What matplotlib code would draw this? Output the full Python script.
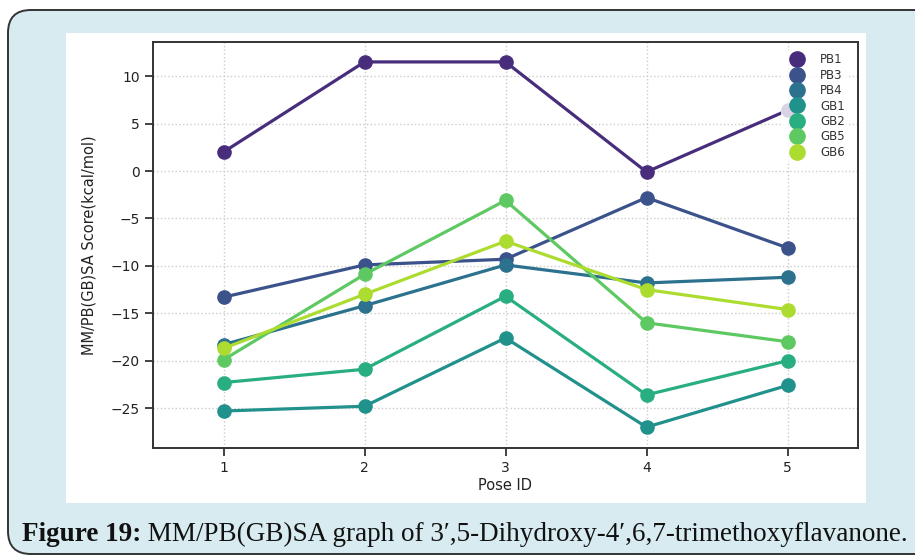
import matplotlib
matplotlib.use('Agg')
import matplotlib.pyplot as plt
from matplotlib.patches import FancyBboxPatch, Rectangle
from matplotlib.lines import Line2D
import seaborn as sns

# values
poses = [1, 2, 3, 4, 5]
labels = ['PB1', 'PB3', 'PB4', 'GB1', 'GB2', 'GB5', 'GB6']
pb1 = [2.0, 11.5, 11.5, -0.1, 6.4]
pb3 = [-13.3, -9.9, -9.3, -2.8, -8.1]
pb4 = [-18.3, -14.2, -9.9, -11.8, -11.2]
gb1 = [-25.3, -24.8, -17.6, -27.0, -22.6]
gb2 = [-22.3, -20.9, -13.2, -23.6, -20.0]
gb5 = [-19.9, -10.9, -3.1, -16.0, -18.0]
gb6 = [-18.7, -13.0, -7.4, -12.5, -14.6]
series = [pb1, pb3, pb4, gb1, gb2, gb5, gb6]
yticks = [-25, -20, -15, -10, -5, 0, 5, 10]

colors = sns.color_palette('viridis', len(labels))
plt.rcParams['font.family'] = ['DejaVu Sans']

fig = plt.figure(figsize=(9.15, 5.57), dpi=100)
fig.patch.set_facecolor('white')

W, H = 915.0, 557.0
# light blue rounded frame
frame = FancyBboxPatch((8 / W, 3 / H), 940 / W, 544 / H,
                       boxstyle='round,pad=0,rounding_size=0.025',
                       transform=fig.transFigure, facecolor='#d7ebf0',
                       edgecolor='#333333', linewidth=1.4, zorder=-3,
                       mutation_aspect=W / H)
fig.patches.append(frame)
# white panel behind the plot
panel = Rectangle((66 / W, 1 - 503 / H), 800 / W, 470 / H, transform=fig.transFigure,
                  facecolor='white', edgecolor='none', zorder=-2)
fig.patches.append(panel)

ax = fig.add_axes([153 / W, 1 - 448 / H, 705 / W, 406 / H])
ax.set_facecolor('white')

for lab, vals, c in zip(labels, series, colors):
    ax.plot(poses, vals, color=c, linewidth=2.3, marker='o', markersize=9.5, label=lab)

ax.set_xlim(0.5, 5.5)
ax.set_ylim(-29.2, 13.6)
ax.set_xticks(poses)
ax.set_yticks(yticks)
ax.set_yticklabels(['\u2212' + str(abs(v)) if v < 0 else str(v) for v in yticks])
ax.grid(True, linestyle=':', color='#cccccc', linewidth=1.0)
ax.tick_params(axis='both', labelsize=10, length=6, width=1.3, color='#333333',
               labelcolor='#222222')
for s in ax.spines.values():
    s.set_color('#333333')
    s.set_linewidth(1.4)

ax.set_xlabel('Pose ID', fontsize=10.5, color='#222222', labelpad=2)
ax.set_ylabel('MM/PB(GB)SA Score(kcal/mol)', fontsize=10.5, color='#222222', labelpad=10)

handles = [Line2D([], [], linestyle='none', marker='o', markersize=11, color=c) for c in colors]
leg = ax.legend(handles, labels, loc='upper right', bbox_to_anchor=(0.995, 0.995),
                fontsize=8.5, frameon=True, framealpha=0.8, edgecolor='none',
                labelspacing=0.2, handletextpad=1.0, borderpad=0.3)
for t in leg.get_texts():
    t.set_color('#333333')

# caption
t1 = fig.text(22 / W, 1 - 541 / H, 'Figure 19:', fontsize=19.5, fontweight='bold',
              family='Liberation Serif', color='#111111', va='baseline')
ax.annotate(' MM/PB(GB)SA graph of 3\u2032,5-Dihydroxy-4\u2032,6,7-trimethoxyflavanone.',
            xy=(1, 0), xycoords=t1, va='bottom', ha='left', fontsize=19.5,
            family='Liberation Serif', color='#111111', annotation_clip=False)

fig.savefig('out.png', dpi=100, facecolor=fig.get_facecolor())
